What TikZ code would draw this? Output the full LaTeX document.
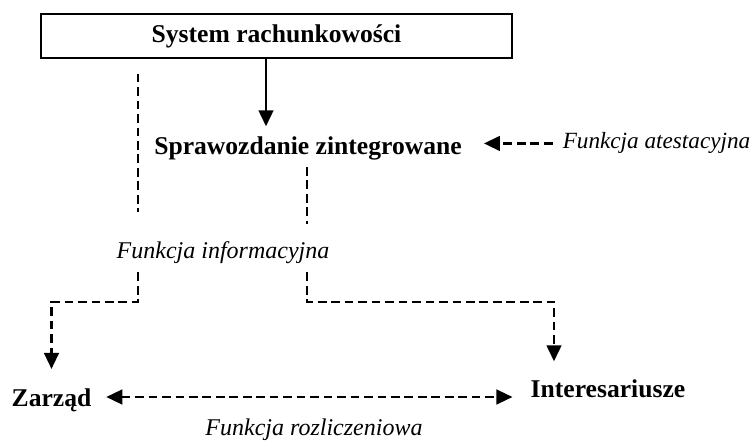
\documentclass[tikz,border=0pt]{standalone}
\usepackage{fontspec}
\setmainfont{Liberation Serif}
\usetikzlibrary{arrows.meta}

\tikzset{
  title/.style={font=\fontsize{19.2pt}{23pt}\selectfont\bfseries, inner sep=0pt},
  func/.style={font=\fontsize{18pt}{21pt}\selectfont\itshape, inner sep=0pt},
  sysbox/.style={draw, line width=1.5pt, minimum width=353pt, minimum height=33pt, inner sep=0pt,
    font=\fontsize{19.2pt}{23pt}\selectfont\bfseries},
  dline/.style={line width=1.8pt, dash pattern=on 6.5pt off 3.6pt},
  tip/.style={-{Triangle[length=12pt,width=11pt]}},
}

\begin{document}
\begin{tikzpicture}[x=0.75pt,y=0.75pt,yscale=-1,xscale=1]
\useasboundingbox (0,0) rectangle (751,445);

% Nodes
\node[sysbox] (sys) at (276.5,36) {System rachunkowości};
\node[title, anchor=base] (spr) at (308,155) {Sprawozdanie zintegrowane};
\node[title, anchor=base] (zar) at (51.5,407) {Zarząd};
\node[title, anchor=base] (int) at (608,398) {Interesariusze};
\node[func, font=\fontsize{17.4pt}{21pt}\selectfont\itshape, anchor=base] (fat) at (656.5,149) {Funkcja atestacyjna};
\node[func, anchor=base] (finf) at (223,259) {Funkcja informacyjna};
\node[func, anchor=base] (froz) at (314,436) {Funkcja rozliczeniowa};

% corners of the dashed lines
\coordinate (lcorner) at (138,302);
\coordinate (rcorner) at (307,302);

% System -> Sprawozdanie
\draw[line width=1.8pt, tip, shorten >=8pt] (sys.south -| 266,0) -- (spr.north -| 266,0);

% Funkcja atestacyjna
\draw[dline, tip, shorten <=7.5pt, shorten >=16.5pt] (fat.west) -- (fat.west -| spr.east);

% Funkcja informacyjna, left branch
\draw[dline, shorten <=11pt, shorten >=22.5pt] (sys.south -| lcorner) -- (finf.north -| lcorner);
\draw[dline, tip, shorten <=6pt, shorten >=15pt] (finf.south -| lcorner) -- (lcorner) -| (zar.north);

% Funkcja informacyjna, right branch
\draw[dline, shorten <=4.5pt, shorten >=13.5pt] (spr.south -| rcorner) -- (finf.north -| rcorner);
\draw[dline, tip, shorten <=6pt, shorten >=14pt] (finf.south -| rcorner) -- (rcorner) -| (int.north -| 554,0);

% Funkcja rozliczeniowa
\draw[dline, {Triangle[length=12pt,width=11pt]}-{Triangle[length=12pt,width=11pt]}, shorten <=11pt, shorten >=13.5pt]
  (zar.east |- 0,397) -- (int.west |- 0,397);

\end{tikzpicture}
\end{document}
